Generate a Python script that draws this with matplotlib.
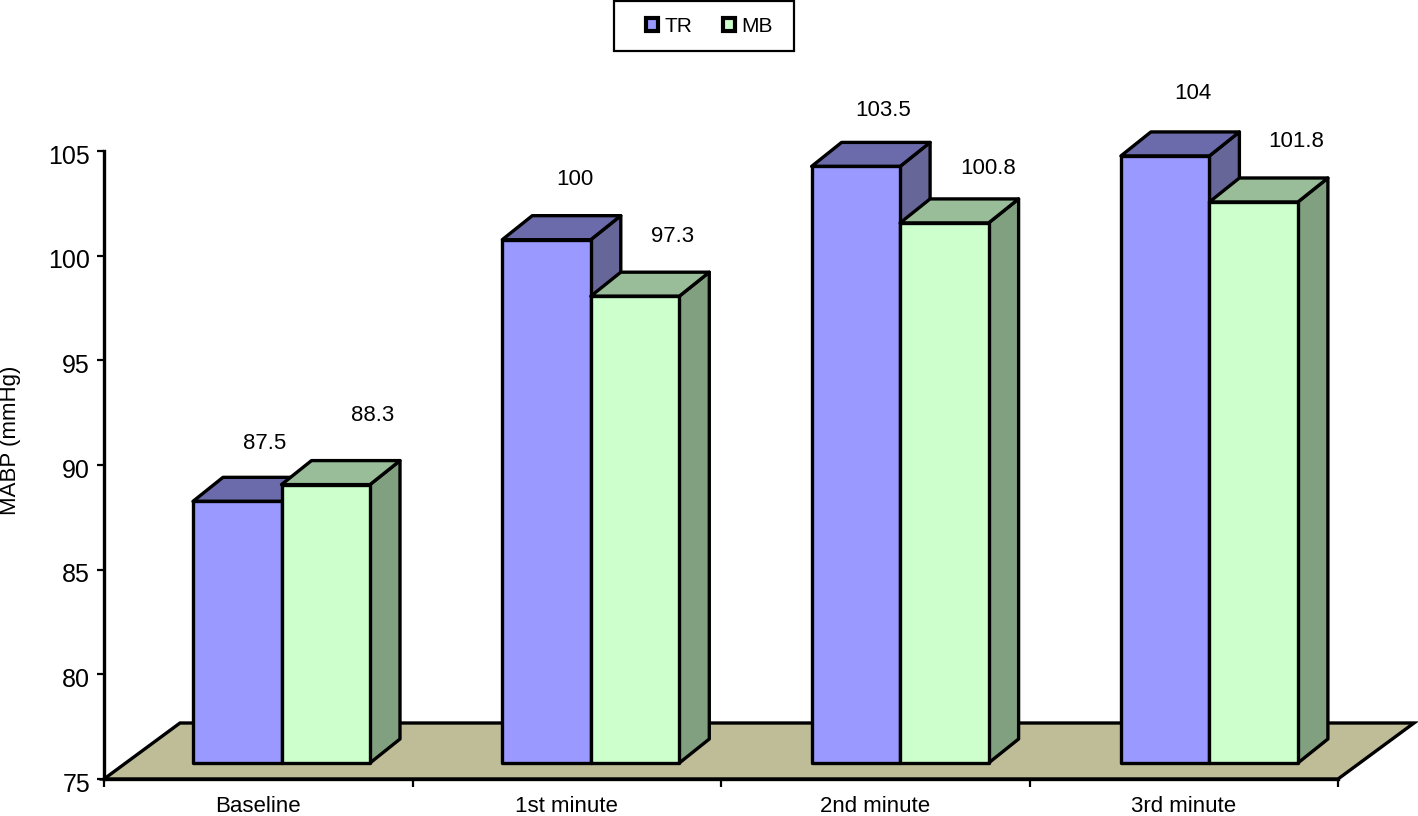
import matplotlib
matplotlib.use('Agg')
import matplotlib.pyplot as plt
from matplotlib.patches import Polygon, Patch, Rectangle
from matplotlib.transforms import ScaledTranslation

plt.rcParams['font.family'] = ['Liberation Sans', 'DejaVu Sans']

categories = ['Baseline', '1st minute', '2nd minute', '3rd minute']
tr_values = [87.5, 100, 103.5, 104]
mb_values = [88.3, 97.3, 100.8, 101.8]
y_ticks = [75, 80, 85, 90, 95, 100, 105]

# hand placed value labels in the original, offset in pixels from the top of each bar
tr_label_offset = [(27, 58), (28, 60), (27, 56), (28, 62)]
mb_label_offset = [(47, 69), (38, 60), (44, 54), (43, 60)]

W, H = 1418, 816
fig = plt.figure(figsize=(W / 100, H / 100), dpi=100)
ax = fig.add_axes([104 / W, 1 - 779 / H, (1338 - 104) / W, (779 - 151) / H])
ax.set_xlim(0, len(categories))
ax.set_ylim(75, 105)

# pixel sizes turned into data units
px_x = len(categories) / (1338 - 104)
px_y = 30 / (779 - 151)
depth_x, depth_y = 30 * px_x, 24 * px_y
bar_w = 88.5 * px_x
bar_start = 89 * px_x
bar_step = 309.3 * px_x
lift = 16 * px_y
lw = 2.4


def draw_bar(x, value, front, top, side, z):
    y0 = 75 + lift
    y1 = value + lift
    x1 = x + bar_w
    shapes = [
        ([(x1, y0), (x1 + depth_x, y0 + depth_y), (x1 + depth_x, y1 + depth_y), (x1, y1)], side),
        ([(x, y1), (x1, y1), (x1 + depth_x, y1 + depth_y), (x + depth_x, y1 + depth_y)], top),
        ([(x, y0), (x1, y0), (x1, y1), (x, y1)], front),
    ]
    for pts, color in shapes:
        ax.add_patch(Polygon(pts, closed=True, facecolor=color, edgecolor='black',
                             linewidth=lw, joinstyle='round', clip_on=False, zorder=z))


# floor
floor_x, floor_y = 76 * px_x, 56 * px_y
n = len(categories)
ax.add_patch(Polygon([(0, 75), (n, 75), (n + floor_x, 75 + floor_y), (floor_x, 75 + floor_y)],
                     closed=True, facecolor='#BFBD97', edgecolor='black', linewidth=lw,
                     clip_on=False, zorder=1))

for i in range(n):
    x_tr = bar_start + i * bar_step
    x_mb = x_tr + bar_w
    draw_bar(x_tr, tr_values[i], '#9999FF', '#6B6BAB', '#666699', 2)
    draw_bar(x_mb, mb_values[i], '#CCFFCC', '#99BD99', '#80A080', 3)

    ax.annotate(str(tr_values[i]), (x_tr + bar_w / 2, tr_values[i] + lift),
                xytext=tr_label_offset[i], textcoords='offset pixels',
                ha='center', va='center', fontsize=16, annotation_clip=False, zorder=5)
    ax.annotate(str(mb_values[i]), (x_mb + bar_w / 2, mb_values[i] + lift),
                xytext=mb_label_offset[i], textcoords='offset pixels',
                ha='center', va='center', fontsize=16, annotation_clip=False, zorder=5)

for s in ['top', 'right']:
    ax.spines[s].set_visible(False)
for s in ['left', 'bottom']:
    ax.spines[s].set_linewidth(lw)
    ax.spines[s].set_zorder(4)

ax.set_yticks(y_ticks)
ax.tick_params(axis='y', labelsize=18, length=5, width=1.6, pad=5)
# tick numbers sit a little under their ticks in the original
shift = ScaledTranslation(0, -3 / 100, fig.dpi_scale_trans)
for lab in ax.get_yticklabels():
    lab.set_transform(lab.get_transform() + shift)
ax.set_xticks(range(n + 1))
ax.set_xticks([i + 0.5 for i in range(n)], minor=True)
ax.set_xticklabels([])
ax.set_xticklabels(categories, minor=True, fontsize=16)
ax.tick_params(axis='x', which='major', length=6, width=1.6)
ax.tick_params(axis='x', which='minor', length=0, pad=12)

fig.text(11 / W, 1 - 440 / H, 'MABP (mmHg)', rotation=90, ha='center', va='center', fontsize=16)

# legend box touches the top of the image, so the frame is drawn on its own
fig.add_artist(Rectangle((614 / W, 1 - 51 / H), 180 / W, 50 / H, transform=fig.transFigure,
                         facecolor='white', edgecolor='black', linewidth=1.6))
handles = [Patch(facecolor='#9999FF', edgecolor='black', linewidth=3, label='TR'),
           Patch(facecolor='#CCFFCC', edgecolor='black', linewidth=3, label='MB')]
fig.legend(handles=handles, loc='center', bbox_to_anchor=(709.5 / W, 1 - 26 / H),
           ncol=2, fontsize=15, frameon=False,
           handlelength=0.6, handleheight=0.6, handletextpad=0.3,
           columnspacing=1.45, borderpad=0, borderaxespad=0)

fig.savefig('out.png', dpi=100)
